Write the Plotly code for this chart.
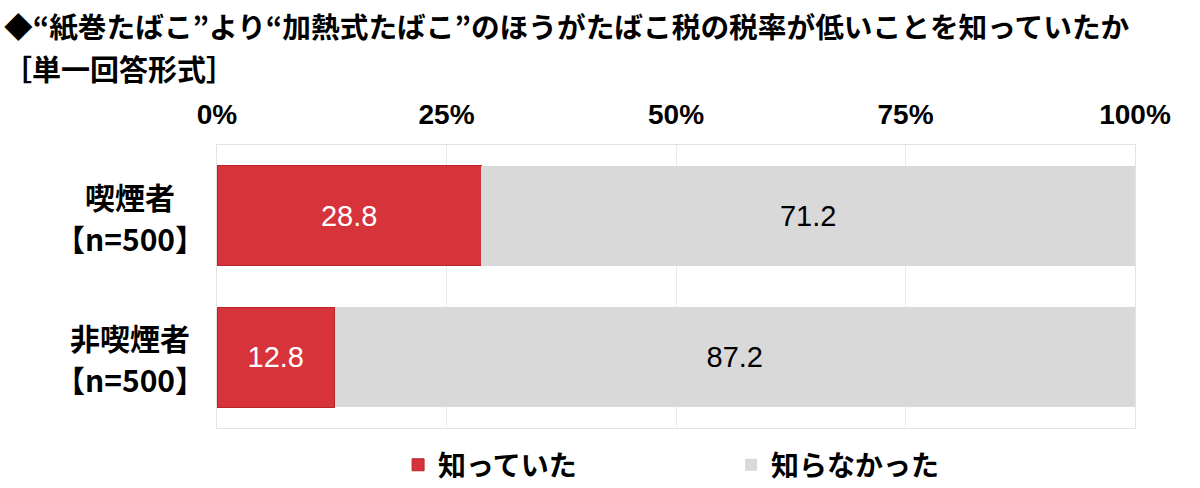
import plotly.graph_objects as go

groups = ["喫煙者", "非喫煙者"]
n_labels = ["【n=500】", "【n=500】"]
knew = [28.8, 12.8]
didnt_know = [71.2, 87.2]
series_names = ["知っていた", "知らなかった"]
tick_vals = [0, 25, 50, 75, 100]
tick_text = ["0%", "25%", "50%", "75%", "100%"]
title_text = "◆“紙巻たばこ”より“加熱式たばこ”のほうがたばこ税の税率が低いことを知っていたか"
subtitle_text = "［単一回答形式］"

JP = "Noto Sans CJK JP"
NUM = "Liberation Sans, Noto Sans CJK JP"

fig = go.Figure()
fig.add_trace(go.Bar(
    y=groups, x=knew, orientation="h", name=series_names[0],
    marker=dict(color="#D6333A", line=dict(color="#B8262C", width=1)),
    text=[f"{v:.1f}" for v in knew], textposition="inside", insidetextanchor="middle",
    textfont=dict(color="white", size=29, family=NUM),
))
fig.add_trace(go.Bar(
    y=groups, x=didnt_know, orientation="h", name=series_names[1],
    marker=dict(color="#D9D9D9", line=dict(width=0)),
    text=[f"{v:.1f}" for v in didnt_know], textposition="inside", insidetextanchor="middle",
    textfont=dict(color="black", size=29, family=NUM),
))

fig.update_layout(
    width=1200, height=488,
    barmode="stack", bargap=0.293,
    paper_bgcolor="white", plot_bgcolor="white",
    margin=dict(l=217, r=65, t=145, b=60, autoexpand=False),
    font=dict(family=JP, color="black"),
    showlegend=True,
    legend=dict(orientation="h", x=0.56, xanchor="center", y=-0.131, yanchor="middle",
                font=dict(size=28, family=JP, weight="bold"),
                entrywidth=288, entrywidthmode="pixels",
                itemclick=False, traceorder="normal"),
    xaxis=dict(range=[0, 100], side="top", tickvals=tick_vals, ticktext=tick_text,
               showgrid=True, gridcolor="#EBEBEB", gridwidth=1,
               showline=True, linecolor="#E3E3E3", mirror=True, zeroline=False,
               ticks="", ticklabelstandoff=9,
               tickfont=dict(size=28, family=NUM, weight="bold")),
    yaxis=dict(autorange="reversed", showticklabels=False, showgrid=False,
               showline=True, linecolor="#E3E3E3", mirror=True, zeroline=False),
)

for g, n in zip(groups, n_labels):
    fig.add_annotation(x=0, xref="paper", y=g, yref="y", xanchor="center", xshift=-87,
                       yshift=20, text=g, showarrow=False,
                       font=dict(size=30, family=JP, weight="bold"))
    fig.add_annotation(x=0, xref="paper", y=g, yref="y", xanchor="center", xshift=-87,
                       yshift=-22, text=n, showarrow=False,
                       font=dict(size=30, family=JP, weight="bold"))

fig.add_annotation(x=0, xref="paper", xanchor="left", xshift=-215, y=1, yref="paper",
                   yanchor="middle", yshift=120, text=title_text, showarrow=False,
                   font=dict(size=28.7, family=JP, weight="bold"))
fig.add_annotation(x=0, xref="paper", xanchor="left", xshift=-216, y=1, yref="paper",
                   yanchor="middle", yshift=77, text=subtitle_text, showarrow=False,
                   font=dict(size=29, family=JP, weight="bold"))

fig.write_html("out.html", config={"displayModeBar": False},
               post_script="document.body.style.margin='0';document.body.style.padding='0';")
